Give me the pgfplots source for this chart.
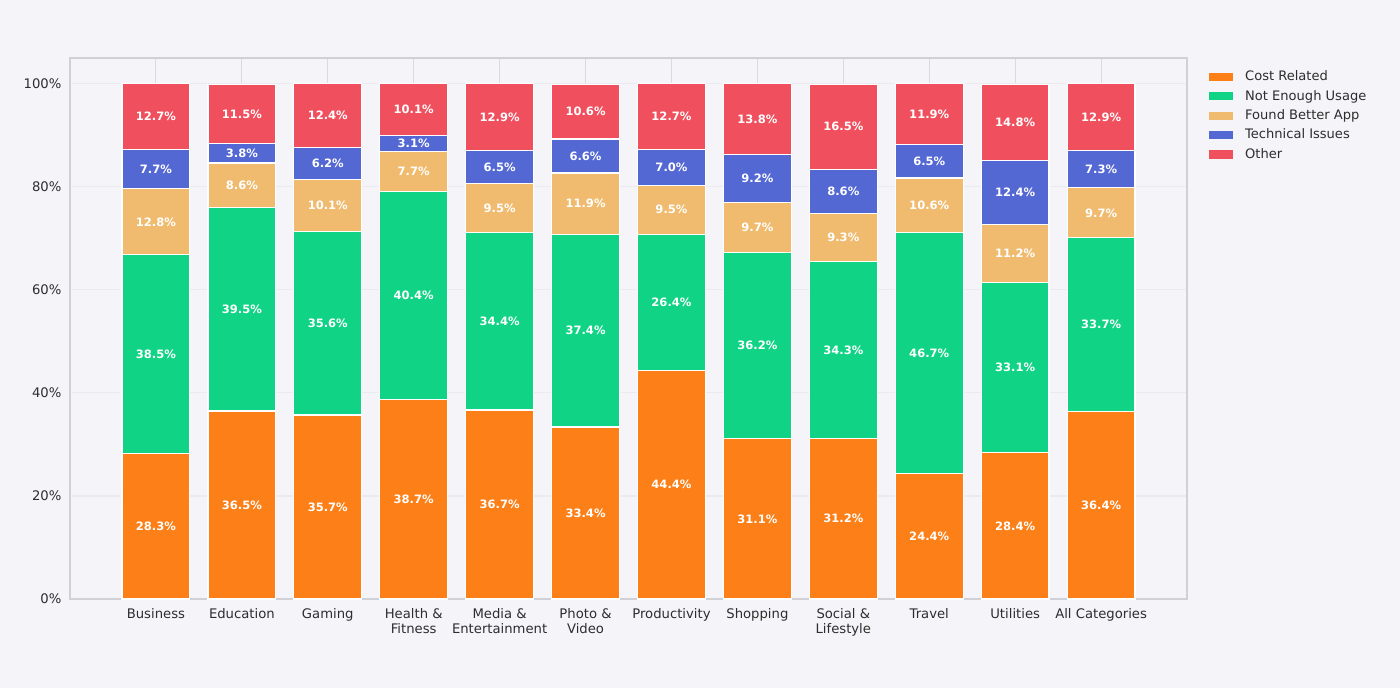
\documentclass[border=0pt]{standalone}
\usepackage{pgfplots}
\usepackage{pgfplotstable}
\pgfplotsset{compat=1.18}
\usepackage{fontspec}
\setmainfont{DejaVu Sans}
\definecolor{bg}{RGB}{245,244,248}
\definecolor{cost}{RGB}{253,127,23}
\definecolor{usage}{RGB}{17,211,133}
\definecolor{better}{RGB}{240,187,110}
\definecolor{tech}{RGB}{84,104,212}
\definecolor{other}{RGB}{240,80,94}
\definecolor{framec}{RGB}{208,208,214}
\definecolor{gridc}{RGB}{218,218,224}
\definecolor{gridh}{RGB}{234,234,239}
\definecolor{txt}{RGB}{45,45,45}

\pgfplotstableread{
x cost usage better tech other
0 28.3 38.5 12.8 7.7 12.7
1 36.5 39.5 8.6 3.8 11.5
2 35.7 35.6 10.1 6.2 12.4
3 38.7 40.4 7.7 3.1 10.1
4 36.7 34.4 9.5 6.5 12.9
5 33.4 37.4 11.9 6.6 10.6
6 44.4 26.4 9.5 7.0 12.7
7 31.1 36.2 9.7 9.2 13.8
8 31.2 34.3 9.3 8.6 16.5
9 24.4 46.7 10.6 6.5 11.9
10 28.4 33.1 11.2 12.4 14.8
11 36.4 33.7 9.7 7.3 12.9
}\data

\pgfplotsset{
  common/.style={
    at={(50.4pt,64.08pt)}, anchor=south west,
    scale only axis, width=804.24pt, height=389.52pt,
    xmin=-1, xmax=12, ymin=0, ymax=105,
  }
}

\begin{document}
\begin{tikzpicture}[x=1pt,y=1pt]
\useasboundingbox[fill=bg] (0,0) rectangle (1008,495.36);
\begin{axis}[
  common,
  ybar stacked, bar width=0.79,
  axis background/.style={fill=bg},
  axis line style={draw=framec, line width=0.8pt},
  major tick length=0pt,
  xtick={0,...,11},
  xticklabels={Business, Education, Gaming, {Health \&\\Fitness}, {Media \&\\Entertainment}, {Photo \&\\Video}, Productivity, Shopping, {Social \&\\Lifestyle}, Travel, Utilities, All Categories},
  ytick={0,20,40,60,80,100},
  yticklabels={0\%,20\%,40\%,60\%,80\%,100\%},
  xmajorgrids, ymajorgrids,
  x grid style={draw=gridc, line width=0.8pt},
  y grid style={draw=gridh, line width=0.8pt},
  ticklabel style={font=\fontsize{9.5}{10.8}\selectfont, text=txt},
  xticklabel style={align=center, inner sep=2pt, yshift=-4.8pt},
  yticklabel style={inner sep=2pt, xshift=-4pt},
  legend style={at={(1.0135,1)}, anchor=north west, draw=none, fill=bg,
    font=\fontsize{9.4}{11}\selectfont, text=txt, row sep=1.35pt,
    inner xsep=5pt, inner ysep=7pt,
    /tikz/every odd column/.append style={column sep=6.5pt}},
  legend cell align=left,
  every axis plot post/.append style={
    legend image code/.code={\path[##1,draw=none] (0pt,-2.9pt) rectangle (17.3pt,2.9pt);}},
]
\addplot[fill=cost, draw=white, line width=0.9pt] table[x=x,y=cost]{\data};
\addplot[fill=usage, draw=white, line width=0.9pt] table[x=x,y=usage]{\data};
\addplot[fill=better, draw=white, line width=0.9pt] table[x=x,y=better]{\data};
\addplot[fill=tech, draw=white, line width=0.9pt] table[x=x,y=tech]{\data};
\addplot[fill=other, draw=white, line width=0.9pt] table[x=x,y=other]{\data};
\legend{Cost Related, Not Enough Usage, Found Better App, Technical Issues, Other}
\end{axis}
\begin{axis}[
  common, hide axis,
  nodes near coords={\pgfmathprintnumber[fixed,fixed zerofill,precision=1,assume math mode=true]{\pgfplotspointmeta}\%},
  every node near coord/.append style={anchor=center, text=white, font=\bfseries\fontsize{8.3}{10}\selectfont},
]
\addplot[draw=none, mark=none, point meta=explicit] table[x=x, y expr=\thisrow{cost}/2, meta=cost]{\data};
\addplot[draw=none, mark=none, point meta=explicit] table[x=x, y expr=\thisrow{cost}+\thisrow{usage}/2, meta=usage]{\data};
\addplot[draw=none, mark=none, point meta=explicit] table[x=x, y expr=\thisrow{cost}+\thisrow{usage}+\thisrow{better}/2, meta=better]{\data};
\addplot[draw=none, mark=none, point meta=explicit] table[x=x, y expr=\thisrow{cost}+\thisrow{usage}+\thisrow{better}+\thisrow{tech}/2, meta=tech]{\data};
\addplot[draw=none, mark=none, point meta=explicit] table[x=x, y expr=\thisrow{cost}+\thisrow{usage}+\thisrow{better}+\thisrow{tech}+\thisrow{other}/2, meta=other]{\data};
\end{axis}
\end{tikzpicture}
\end{document}
